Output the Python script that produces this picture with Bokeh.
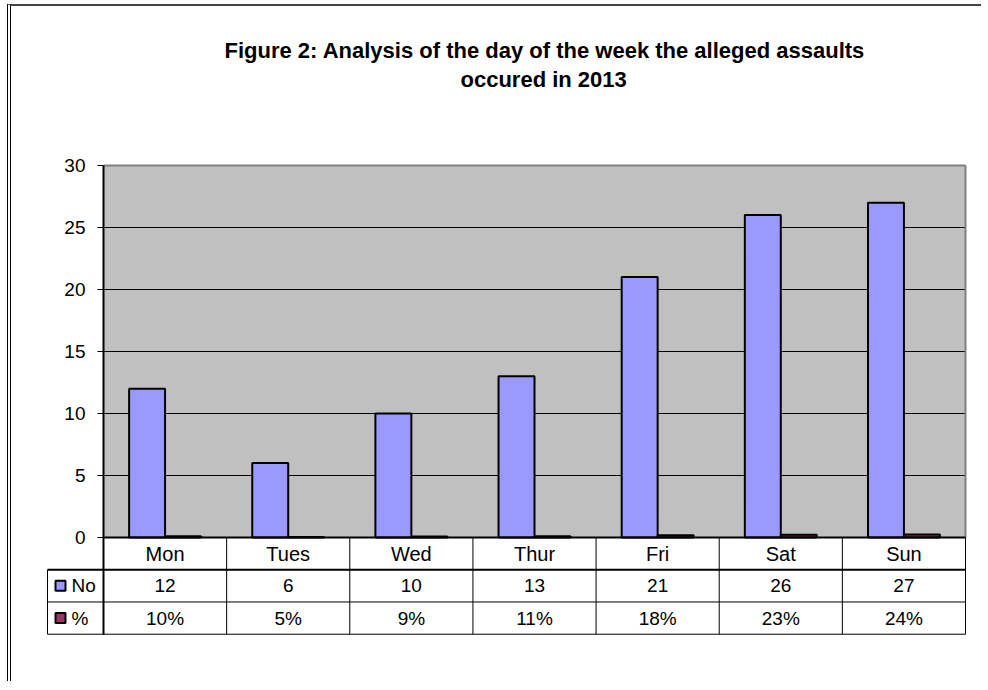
from bokeh.plotting import figure
from bokeh.layouts import column
from bokeh.models import Range1d, FixedTicker, ColumnDataSource, Title
from bokeh.transform import dodge
from bokeh.core.properties import value
from bokeh.embed import file_html
from bokeh.resources import INLINE

# ---- data ----
days = ["Mon", "Tues", "Wed", "Thur", "Fri", "Sat", "Sun"]
counts = [12, 6, 10, 13, 21, 26, 27]
pct = [10, 5, 9, 11, 18, 23, 24]
pct_labels = ["10%", "5%", "9%", "11%", "18%", "23%", "24%"]
series = ["No", "%"]
y_ticks = [0, 5, 10, 15, 20, 25, 30]
title_line1 = "Figure 2: Analysis of the day of the week the alleged assaults"
title_line2 = "occured in 2013"

FONT = "Liberation Sans"
C_NO = "#9999FF"
C_PCT = "#993366"
C_PLOT = "#C0C0C0"
C_EDGE = "#808080"

n = len(days)
ymax = y_ticks[-1]

# ---- geometry (pixels) ----
W, H = 970, 675
cw = 862 / n            # px per category
py = 372 / ymax         # px per y unit
row_h = 2.6             # table row height in y units
legend_w = 56 / cw      # width of the legend column of the table

p = figure(
    x_range=Range1d(-58 / cw, n + 2 / cw),
    y_range=Range1d(-100 / py, ymax + 15 / py),
    width=W, height=H,
    min_border_left=34, min_border_right=14, min_border_top=144, min_border_bottom=44,
    x_axis_location=None,
    output_backend="svg", toolbar_location=None,
)
p.background_fill_color = "white"
p.border_fill_color = "white"
p.outline_line_color = None
p.grid.visible = False

# titles (first added sits closest to the plot)
spacer = Title(text=" ", standoff=55, text_font_size="1px")
t2 = Title(text=title_line2, align="left", offset=415, standoff=2,
           text_font=FONT, text_font_size="22px", text_font_style="bold", text_color="black")
t1 = Title(text=title_line1, align="left", offset=179, standoff=2,
           text_font=FONT, text_font_size="22px", text_font_style="bold", text_color="black")
p.add_layout(spacer, "above")
p.add_layout(t2, "above")
p.add_layout(t1, "above")

# plot area background and grid
p.quad(left=[0], right=[n], bottom=[0], top=[ymax], fill_color=C_PLOT, line_color=None)
grid_y = y_ticks[1:-1]
p.segment(x0=[0] * len(grid_y), y0=grid_y, x1=[n] * len(grid_y), y1=grid_y,
          line_color="black", line_width=1)

# bars
xc = [i + 0.5 for i in range(n)]
src = ColumnDataSource(dict(xc=xc, no=counts, pct=[v / 100 for v in pct]))
bw = 0.292
p.vbar(x=dodge("xc", -bw / 2), top="no", width=bw, source=src,
       fill_color=C_NO, line_color="black", line_width=2)
p.vbar(x=dodge("xc", bw / 2), top="pct", width=bw, source=src,
       fill_color=C_PCT, line_color="black", line_width=2)

# plot area edges (top / right)
p.segment(x0=[0, n], y0=[ymax, 0], x1=[n, n], y1=[ymax, ymax], line_color=C_EDGE, line_width=2)

# y axis
ya = p.yaxis[0]
ya.fixed_location = 0
ya.bounds = (-3 * row_h, ymax)
ya.ticker = FixedTicker(ticks=y_ticks)
ya.axis_line_width = 2
ya.axis_line_color = "black"
ya.major_tick_out = 6
ya.major_tick_in = 0
ya.major_tick_line_width = 1
ya.minor_tick_out = 0
ya.minor_tick_in = 0
ya.major_label_standoff = 12
ya.major_label_text_font = FONT
ya.major_label_text_font_size = "19px"
ya.major_label_text_color = "black"

# ---- data table under the chart ----
yb = [0, -row_h, -2 * row_h, -3 * row_h]
p.segment(x0=[0], y0=[yb[0]], x1=[n], y1=[yb[0]], line_color="black", line_width=2)
p.segment(x0=[-legend_w], y0=[yb[1]], x1=[n], y1=[yb[1]], line_color="black", line_width=2)
p.segment(x0=[-legend_w] * 2, y0=yb[2:], x1=[n] * 2, y1=yb[2:], line_color="black", line_width=1)
vx = list(range(1, n + 1))
p.segment(x0=vx, y0=[yb[3]] * n, x1=vx, y1=[yb[0]] * n, line_color="black", line_width=1)
p.segment(x0=[-legend_w], y0=[yb[3]], x1=[-legend_w], y1=[yb[1]], line_color="black", line_width=1)

common = dict(text_font=value(FONT), text_color="black",
              text_align="center", text_baseline="middle")
p.text(x=xc, y=[-0.5 * row_h] * n, text=days, text_font_size="20px", **common)
p.text(x=xc, y=[-1.5 * row_h] * n, text=[str(c) for c in counts], text_font_size="19px", **common)
p.text(x=xc, y=[-2.5 * row_h] * n, text=pct_labels, text_font_size="19px", **common)

# legend keys of the table
p.rect(x=[-43 / cw] * 2, y=[-1.5 * row_h, -2.5 * row_h], width=10, height=10,
       width_units="screen", height_units="screen",
       fill_color=[C_NO, C_PCT], line_color="black", line_width=2)
p.text(x=[-32 / cw] * 2, y=[-1.5 * row_h, -2.5 * row_h], text=series,
       text_font=value(FONT), text_font_size="19px", text_color="black",
       text_align="left", text_baseline="middle")

layout = column(p, styles={"border-left": "4px double black", "border-top": "2px solid #444",
                           "margin-left": "7px", "margin-top": "4px"})

open("out.html", "w").write(file_html(layout, INLINE))
